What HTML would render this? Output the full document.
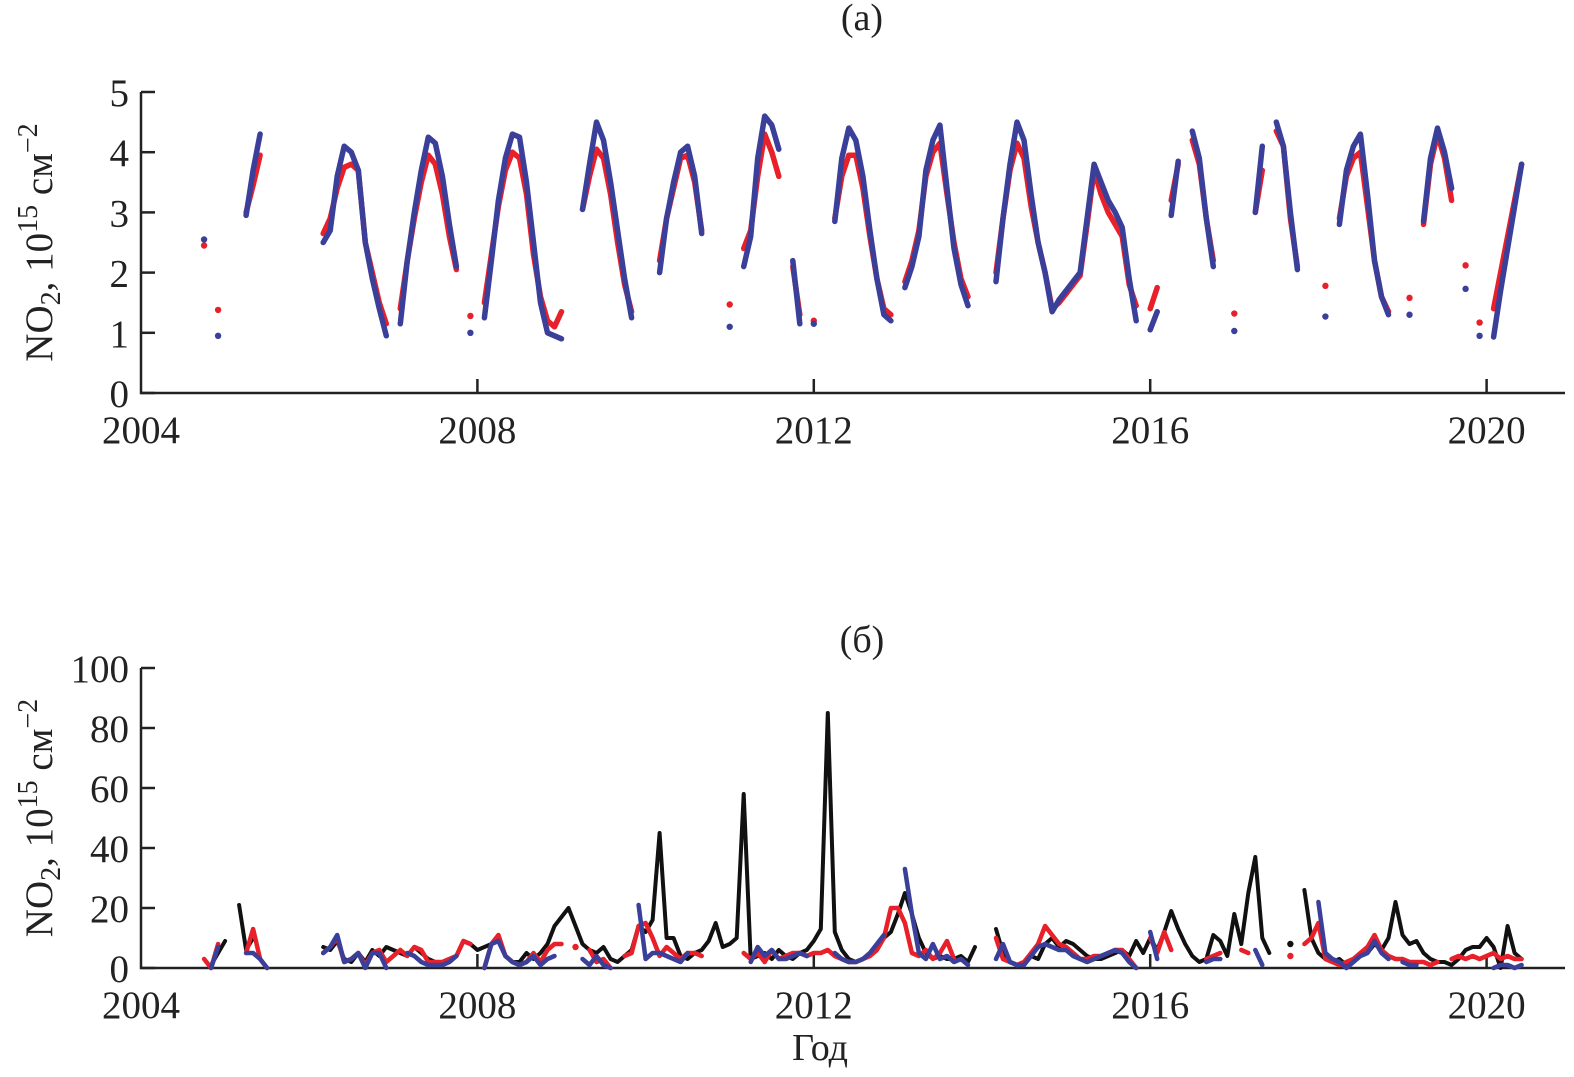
<!DOCTYPE html>
<html><head><meta charset="utf-8"><style>
body{margin:0;background:#fff}
svg{display:block;font-family:"Liberation Serif",serif}
</style></head><body>
<svg id="chart" width="1574" height="1077" viewBox="0 0 1574 1077" xmlns="http://www.w3.org/2000/svg">
<g id="top"></g>
<g id="bot"></g>
</svg>
<script>
const n=null;
const years=[2004,2005,2006,2007,2008,2009,2010,2011,2012,2013,2014,2015,2016,2017,2018,2019,2020];
const xTickLabels=["2004","2008","2012","2016","2020"];
const xTickYears=[2004,2008,2012,2016,2020];
const topYTicks=[0,1,2,3,4,5];
const botYTicks=[0,20,40,60,80,100];
const topRed=[
[n,n,n,n,n,n,n,n,n,2.45,n,1.38],
[n,n,n,3.0,3.45,3.95,n,n,n,n,n,n],
[n,n,2.65,2.9,3.4,3.75,3.8,3.7,2.5,2.0,1.5,1.15],
[n,1.4,2.2,2.9,3.5,3.95,3.8,3.3,2.6,2.05,n,1.28],
[n,1.5,2.3,3.1,3.7,4.0,3.9,3.3,2.3,1.6,1.2,1.1],
[1.35,n,n,3.05,3.6,4.05,3.9,3.3,2.5,1.8,1.35,n],
[n,n,2.2,2.9,3.4,3.9,3.95,3.5,2.7,n,n,n],
[1.47,n,2.4,2.7,3.6,4.3,4.0,3.6,n,2.1,1.3,n],
[1.2,n,n,2.9,3.6,3.95,3.95,3.4,2.6,1.9,1.4,1.3],
[n,1.85,2.2,2.7,3.6,4.0,4.15,3.3,2.5,1.9,1.6,n],
[n,n,2.0,2.9,3.7,4.15,3.9,3.1,2.5,2.0,1.4,1.5],
[1.65,1.8,1.95,2.8,3.7,3.3,3.0,2.8,2.6,1.8,1.45,n],
[1.4,1.75,n,3.2,3.8,n,4.2,3.8,2.9,2.2,n,n],
[1.32,n,n,3.0,3.7,n,4.35,4.1,2.9,2.1,n,n],
[n,1.78,n,2.9,3.6,3.9,4.0,3.1,2.2,1.6,1.35,n],
[n,1.58,n,2.8,3.8,4.3,3.9,3.2,n,2.12,n,1.17],
[n,1.4,2.0,2.6,3.2,3.8,n,n,n,n,n,n]];
const topBlue=[
[n,n,n,n,n,n,n,n,n,2.55,n,0.95],
[n,n,n,2.95,3.7,4.3,n,n,n,n,n,n],
[n,n,2.5,2.7,3.6,4.1,4.0,3.7,2.5,1.9,1.4,0.95],
[n,1.15,2.2,3.0,3.7,4.25,4.15,3.6,2.8,2.1,n,1.0],
[n,1.25,2.2,3.2,3.9,4.3,4.25,3.5,2.5,1.5,1.0,0.95],
[0.9,n,n,3.05,3.8,4.5,4.2,3.5,2.7,1.9,1.25,n],
[n,n,2.0,2.9,3.5,4.0,4.1,3.6,2.65,n,n,n],
[1.1,n,2.1,2.6,3.9,4.6,4.45,4.05,n,2.2,1.15,n],
[1.15,n,n,2.85,3.9,4.4,4.2,3.6,2.7,1.9,1.3,1.2],
[n,1.75,2.1,2.6,3.7,4.2,4.45,3.4,2.4,1.8,1.45,n],
[n,n,1.85,2.9,3.8,4.5,4.2,3.3,2.5,2.0,1.35,1.55],
[1.7,1.85,2.0,2.9,3.8,3.5,3.2,3.0,2.75,1.9,1.2,n],
[1.05,1.35,n,2.95,3.85,n,4.35,3.9,2.9,2.1,n,n],
[1.03,n,n,3.0,4.1,n,4.5,4.1,3.0,2.05,n,n],
[n,1.27,n,2.8,3.7,4.1,4.3,3.3,2.2,1.6,1.3,n],
[n,1.3,n,2.85,3.9,4.4,4.0,3.4,n,1.73,n,0.95],
[n,0.93,1.7,2.4,3.1,3.8,n,n,n,n,n,n]];
const botBlack=[
[n,n,n,n,n,n,n,n,n,n,1,5],
[9,n,21,6,10,n,n,n,n,n,n,n],
[n,n,7,6,9,3,2,5,2,6,4,7],
[6,5,4,7,5,3,2,2,3,4,9,8],
[6,7,8,9,4,2,2,5,3,5,8,14],
[17,20,14,8,6,5,7,3,2,4,6,14],
[12,16,45,10,10,4,3,5,6,9,15,7],
[8,10,58,3,4,5,3,6,4,3,5,6],
[9,13,85,12,6,3,2,3,5,8,10,12],
[18,25,18,10,5,3,4,3,3,4,2,7],
[n,n,13,5,2,1,1,4,3,8,10,7],
[9,8,6,4,3,3,4,5,6,4,9,5],
[10,6,12,19,13,8,4,2,3,11,9,4],
[18,8,25,37,10,5,n,n,8,n,26,10],
[5,3,2,3,1,2,4,5,8,6,10,22],
[11,8,9,5,3,2,2,1,3,6,7,7],
[10,7,0,14,5,3,n,n,n,n,n,n]];
const botRed=[
[n,n,n,n,n,n,n,n,n,3,0,8],
[n,n,n,5,13,3,0,n,n,n,n,n],
[n,n,5,7,10,2,3,5,1,5,6,2],
[4,6,4,7,6,2,2,2,3,4,9,8],
[n,0,8,11,4,2,1,2,5,2,6,8],
[8,n,7,n,6,2,3,0,n,4,5,14],
[15,10,4,7,5,3,5,5,4,n,n,n],
[n,n,5,3,5,2,6,3,4,5,5,4],
[5,5,6,4,3,2,2,3,4,6,10,20],
[20,15,5,4,6,3,5,9,3,n,n,n],
[n,n,10,3,2,1,2,5,8,14,11,8],
[7,5,3,3,4,4,5,6,6,3,0,n],
[10,5,12,6,n,n,n,n,3,4,5,n],
[n,6,5,n,n,n,n,n,4,n,8,10],
[15,3,2,1,2,3,5,7,11,6,4,3],
[3,2,2,2,1,2,n,3,4,3,4,3],
[4,5,3,4,3,3,n,n,n,n,n,n]];
const botBlue=[
[n,n,n,n,n,n,n,n,n,n,0,7],
[n,n,n,5,5,3,0,n,n,n,n,n],
[n,n,5,7,11,2,3,5,0,5,5,0],
[n,n,5,4,2,1,1,1,2,4,n,n],
[n,0,8,9,4,2,1,2,4,1,3,4],
[n,n,n,3,1,4,1,0,n,n,n,21],
[3,5,5,4,3,2,5,n,n,n,n,n],
[n,n,n,2,7,4,6,3,3,4,5,4],
[n,n,n,5,3,2,2,3,5,8,11,n],
[n,33,18,5,3,8,3,4,2,3,1,n],
[n,n,3,8,2,1,1,4,7,8,7,6],
[6,4,3,2,3,4,5,6,5,2,0,n],
[12,3,n,n,n,n,n,n,2,3,3,n],
[n,n,n,6,1,n,n,n,n,n,n,n],
[22,5,3,2,0,2,4,5,9,5,3,n],
[2,1,1,n,n,n,n,n,n,n,n,n],
[n,0,1,1,0,1,n,n,n,n,n,n]];

const NS="http://www.w3.org/2000/svg";
function mk(tag,attrs,parent){const e=document.createElementNS(NS,tag);for(const k in attrs)e.setAttribute(k,attrs[k]);parent.appendChild(e);return e;}
const X0=141,X1=1565,PXY=84.1;
const xs=t=>X0+(t-2004)*PXY;

function panel(g,opt){
  const ys=v=>opt.y0-(v-opt.ymin)*(opt.y0-opt.y1)/(opt.ymax-opt.ymin);
  const ax=mk('path',{d:`M${X0},${opt.y1} V${opt.y0} H${X1}`,stroke:'#222','stroke-width':2.5,fill:'none'},g);
  
  
  opt.yticks.forEach(v=>{
    const y=ys(v);
    const tk=mk('line',{x1:X0,x2:X0+14,y1:y,y2:y,stroke:'#222','stroke-width':2.5},g);
    
    
    const t=mk('text',{x:X0-12,y:y+14,'text-anchor':'end','font-size':39,fill:'#222'},g);
    
    
    t.textContent=v;
  });
  xTickYears.forEach((yr,i)=>{
    const x=xs(yr);
    if(i>0){const tk=mk('line',{x1:x,x2:x,y1:opt.y0,y2:opt.y0-14,stroke:'#222','stroke-width':2.5},g);
      
      }
    const t=mk('text',{x:x,y:opt.y0+50,'text-anchor':'middle','font-size':39,fill:'#222'},g);
    
    
    t.textContent=xTickLabels[i];
  });
  opt.series.forEach(s=>{
    const flat=[];
    years.forEach((yr,i)=>s.data[i].forEach((v,m)=>flat.push({t:yr+m/12,v})));
    let d='';const dots=[];
    flat.forEach((p,i)=>{
      if(p.v===null)return;
      const prev=i>0&&flat[i-1].v!==null, next=i<flat.length-1&&flat[i+1].v!==null;
      const x=xs(p.t),y=ys(p.v);
      if(!prev&&!next){dots.push([x,y]);return;}
      d+=(prev?'L':'M')+x.toFixed(1)+','+y.toFixed(1)+' ';
    });
    const pth=mk('path',{d,stroke:s.color,'stroke-width':s.w,fill:'none','stroke-linejoin':'round','stroke-linecap':'round'},g);
    
    
    dots.forEach(([x,y])=>{
      const c=mk('circle',{cx:x,cy:y,r:3.2,fill:s.color},g);
      
      
    });
  });
  const tt=mk('text',{x:862,y:opt.titleY,'text-anchor':'middle','font-size':38,fill:'#222'},g);
  
  
  tt.textContent=opt.title;
  const yl=mk('text',{transform:`translate(52,${(opt.y0+opt.y1)/2}) rotate(-90)`,'text-anchor':'middle','font-size':39,fill:'#222'},g);
  
  
  yl.innerHTML='NO<tspan font-size="28" dy="8">2</tspan><tspan dy="-8">, 10</tspan><tspan font-size="28" dy="-15">15</tspan><tspan dy="15"> см</tspan><tspan font-size="28" dy="-15">−2</tspan>';
}
panel(document.getElementById('top'),{y0:393,y1:92,ymin:0,ymax:5,yticks:topYTicks,title:'(a)',titleY:30,
  series:[{data:topRed,color:'#e8202a',w:5.5,name:'series-red-a'},{data:topBlue,color:'#3a3f9a',w:5.5,name:'series-blue-a'}]});
panel(document.getElementById('bot'),{y0:968,y1:668,ymin:0,ymax:100,yticks:botYTicks,title:'(б)',titleY:652,
  series:[{data:botBlack,color:'#111',w:4,name:'series-black-b'},{data:botRed,color:'#e8202a',w:4.5,name:'series-red-b'},{data:botBlue,color:'#3a3f9a',w:4.5,name:'series-blue-b'}]});
const xl=mk('text',{x:820,y:1060,'text-anchor':'middle','font-size':38,fill:'#222'},document.getElementById('chart'));


xl.textContent='Год';
</script>
</body></html>
